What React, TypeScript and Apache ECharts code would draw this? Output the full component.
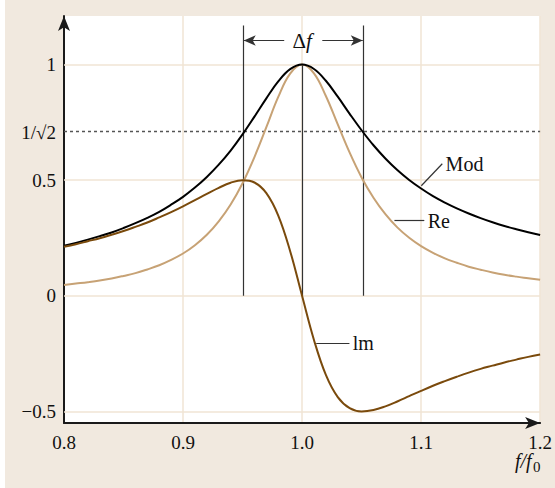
import React, { useEffect, useRef } from 'react';
import * as echarts from 'echarts';

const freq = [0.80, 0.81, 0.82, 0.83, 0.84, 0.85, 0.86, 0.87, 0.88, 0.89, 0.90, 0.91, 0.92, 0.93, 0.94, 0.95, 0.96, 0.97, 0.98, 0.99, 1.00, 1.01, 1.02, 1.03, 1.04, 1.05, 1.06, 1.07, 1.08, 1.09, 1.10, 1.11, 1.12, 1.13, 1.14, 1.15, 1.16, 1.17, 1.18, 1.19, 1.20];
const modValues = [0.217, 0.229, 0.243, 0.258, 0.274, 0.293, 0.314, 0.337, 0.363, 0.394, 0.428, 0.468, 0.514, 0.567, 0.628, 0.698, 0.775, 0.854, 0.927, 0.980, 1.000, 0.981, 0.930, 0.861, 0.787, 0.716, 0.651, 0.594, 0.544, 0.501, 0.464, 0.431, 0.403, 0.378, 0.356, 0.336, 0.318, 0.302, 0.288, 0.275, 0.263];
const reValues = [0.047, 0.053, 0.059, 0.066, 0.075, 0.086, 0.098, 0.114, 0.132, 0.155, 0.183, 0.219, 0.264, 0.322, 0.395, 0.487, 0.600, 0.729, 0.860, 0.961, 1.000, 0.962, 0.864, 0.741, 0.619, 0.512, 0.424, 0.353, 0.296, 0.251, 0.215, 0.186, 0.162, 0.143, 0.126, 0.113, 0.101, 0.091, 0.083, 0.076, 0.069];
const imValues = [0.212, 0.223, 0.236, 0.249, 0.264, 0.280, 0.298, 0.317, 0.339, 0.362, 0.387, 0.414, 0.441, 0.467, 0.489, 0.500, 0.490, 0.444, 0.347, 0.193, 0.000, -0.191, -0.342, -0.438, -0.486, -0.500, -0.494, -0.478, -0.457, -0.434, -0.411, -0.389, -0.369, -0.350, -0.332, -0.316, -0.302, -0.288, -0.276, -0.264, -0.254];

const yTickValues = [-0.5, 0, 0.5, 1 / Math.SQRT2, 1];
const yTickLabels = ['\u22120.5', '0', '0.5', '1/\u221A2', '1'];
const gridYValues = [-0.5, 0, 0.5, 1];

const bandLow = 0.951;
const bandHigh = 1.051;
const bandTop = 1.169;
const arrowY = 1.104;
const arrowGapLeft = 0.985;
const arrowGapRight = 1.017;

const FONT = '"Liberation Serif", "DejaVu Serif", serif';
const BG = '#f1e9df';
const GRIDC = '#f0e4d4';
const MOD_C = '#000000';
const RE_C = '#c7a275';
const IM_C = '#7a4a0c';

const pairs = (ys: number[]) => freq.map((f, i) => [f, ys[i]]);

export default function App() {
  const ref = useRef<HTMLDivElement>(null);
  useEffect(() => {
    if (!ref.current) return;
    const chart = echarts.init(ref.current, null, { renderer: 'svg' });
    const labelStyle = { color: '#111', fontFamily: FONT, fontSize: 20 };
    const textPoint = (coord: number[], text: string, position: string) => ({
      coord,
      symbol: 'circle',
      symbolSize: 1,
      itemStyle: { color: 'rgba(0,0,0,0)' },
      label: { show: true, position, distance: 2, formatter: text, ...labelStyle },
    });
    const option: any = {
      animation: false,
      backgroundColor: BG,
      textStyle: { fontFamily: FONT },
      grid: { left: 64, right: 14, top: 16, bottom: 65, show: true, backgroundColor: '#ffffff', borderWidth: 0 },
      xAxis: {
        type: 'value',
        min: 0.8,
        max: 1.2,
        interval: 0.1,
        axisLine: { show: true, onZero: false, lineStyle: { color: '#1a1a1a', width: 2 }, symbol: ['none', 'arrow'], symbolSize: [9, 15] },
        axisTick: { show: false },
        axisLabel: { color: '#111', fontSize: 19, fontFamily: FONT, margin: 10, formatter: (v: number) => v.toFixed(1) },
        splitLine: { show: true, lineStyle: { color: GRIDC, width: 1.5 } },
      },
      yAxis: {
        type: 'value',
        min: -0.55,
        max: 1.21,
        axisLine: { show: true, onZero: false, lineStyle: { color: '#1a1a1a', width: 2 }, symbol: ['none', 'arrow'], symbolSize: [9, 15] },
        axisTick: { show: false },
        axisLabel: {
          customValues: yTickValues,
          color: '#111',
          fontSize: 19,
          fontFamily: FONT,
          margin: 8,
          formatter: (v: number) => {
            const i = yTickValues.findIndex((t) => Math.abs(t - v) < 1e-6);
            return i >= 0 ? yTickLabels[i] : '';
          },
        },
        splitLine: { show: false },
      },
      graphic: [
        { type: 'rect', left: 0, top: 0, shape: { width: 5, height: 488 }, style: { fill: '#ffffff' } },
        { type: 'text', left: 515, top: 451, style: { text: 'f/f', fontFamily: FONT, fontSize: 20, fontStyle: 'italic', fill: '#111' } },
        { type: 'text', left: 533, top: 459, style: { text: '0', fontFamily: FONT, fontSize: 15, fill: '#111' } },
      ],
      series: [
        {
          name: 'Re',
          type: 'line',
          data: pairs(reValues),
          smooth: 0.4,
          symbol: 'none',
          z: 3,
          lineStyle: { color: RE_C, width: 2 },
          markLine: {
            silent: true,
            z: 1,
            symbol: ['none', 'none'],
            label: { show: false },
            lineStyle: { color: GRIDC, width: 1.5, type: 'solid' },
            data: gridYValues.map((v) => ({ yAxis: v })),
          },
        },
        {
          name: 'Mod',
          type: 'line',
          data: pairs(modValues),
          smooth: 0.4,
          symbol: 'none',
          z: 4,
          lineStyle: { color: MOD_C, width: 2 },
          markLine: {
            silent: true,
            z: 2,
            symbol: ['none', 'none'],
            label: { show: false },
            lineStyle: { color: '#333', width: 1.2, type: 'solid' },
            data: [
              { yAxis: 1 / Math.SQRT2, lineStyle: { color: '#555', width: 1.3, type: [3, 3] } },
              [{ coord: [bandLow, 0] }, { coord: [bandLow, bandTop] }],
              [{ coord: [bandHigh, 0] }, { coord: [bandHigh, bandTop] }],
              [{ coord: [1.0, 0] }, { coord: [1.0, 1.0] }],
              [
                { coord: [bandLow, arrowY], symbol: 'arrow', symbolSize: [8, 12] },
                { coord: [arrowGapLeft, arrowY], symbol: 'none' },
              ],
              [
                { coord: [arrowGapRight, arrowY], symbol: 'none' },
                { coord: [bandHigh, arrowY], symbol: 'arrow', symbolSize: [8, 12] },
              ],
              [{ coord: [1.1002, 0.476] }, { coord: [1.1178, 0.571] }],
              [{ coord: [1.0776, 0.325] }, { coord: [1.1027, 0.325] }],
              [{ coord: [1.0119, -0.206] }, { coord: [1.0398, -0.206] }],
            ],
          },
          markPoint: {
            silent: true,
            data: [
              {
                coord: [1.0, arrowY],
                symbol: 'circle',
                symbolSize: 1,
                itemStyle: { color: 'rgba(0,0,0,0)' },
                label: {
                  show: true,
                  position: 'inside',
                  formatter: '{d|\u0394}{f|f}',
                  rich: {
                    d: { fontFamily: FONT, fontSize: 21, color: '#111' },
                    f: { fontFamily: FONT, fontSize: 21, fontStyle: 'italic', color: '#111' },
                  },
                },
              },
              textPoint([1.1185, 0.571], 'Mod', 'right'),
              textPoint([1.1035, 0.325], 'Re', 'right'),
              textPoint([1.0405, -0.206], 'lm', 'right'),
            ],
          },
        },
        {
          name: 'Im',
          type: 'line',
          data: pairs(imValues),
          smooth: 0.4,
          symbol: 'none',
          z: 5,
          lineStyle: { color: IM_C, width: 2 },
        },
      ],
    };
    chart.setOption(option);
    return () => chart.dispose();
  }, []);
  return <div ref={ref} style={{ position: 'fixed', left: 0, top: 0, width: 555, height: 488 }} />;
}
